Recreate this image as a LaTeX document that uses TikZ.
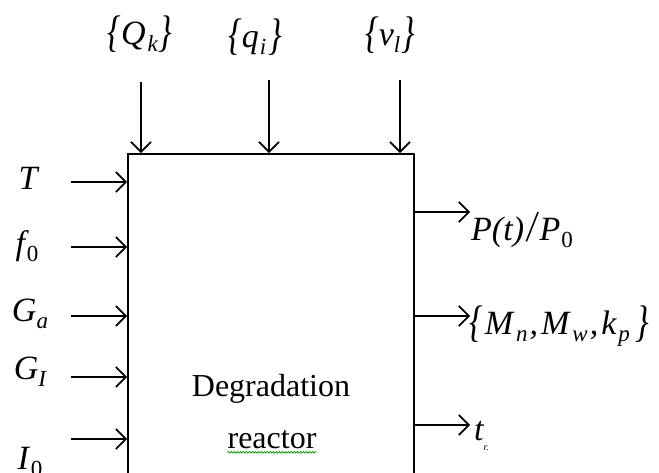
\documentclass[tikz,border=0pt]{standalone}
\usepackage{fontspec}
\setmainfont{Liberation Serif}
\usetikzlibrary{arrows.meta,decorations.pathmorphing}
\newcommand\sbs[1]{\raisebox{-0.45ex}{\fontsize{23}{23}\selectfont #1}}
\newcommand\bigbr[1]{\raisebox{-0.1ex}{\scalebox{1}[1.3]{#1}}}
\begin{document}
\begin{tikzpicture}[x=1pt,y=-1pt,
  lbl/.style={inner sep=0pt,font=\fontsize{34}{36}\selectfont\itshape},
  arr/.style={line width=1.7pt,-{Straight Barb[length=10pt,width=20pt,line width=1.7pt]}},
  boxst/.style={draw,line width=1.7pt,minimum width=286pt,minimum height=322pt,inner sep=0pt}]
\useasboundingbox (0,0) rectangle (659,473);
\clip (0,0) rectangle (659,473);
\fill[white] (0,0) rectangle (659,473);
\node[boxst] (box) at (271,315) {};
\node[inner sep=0pt,font=\fontsize{32}{34}\selectfont] (t1) at (271,389) {Degradation};
\node[inner sep=0pt,font=\fontsize{32}{34}\selectfont] (t2) at (272,440) {reactor};
\draw[green!60!black,line width=0.7pt,decorate,decoration={snake,amplitude=0.8pt,segment length=3pt}] ([yshift=-3pt]t2.south west) -- ([yshift=-3pt]t2.south east);
% top inputs
\node[lbl] (Qk) at (140,34) {\bigbr{\{}\textit{Q}\kern2pt\sbs{k}\kern1pt\bigbr{\}}};
\node[lbl] (qi) at (255,37) {\bigbr{\{}\textit{q}\kern1pt\sbs{i}\kern2pt\bigbr{\}}};
\node[lbl] (nu) at (390,35) {\bigbr{\{}\textit{ν}\sbs{l}\kern1pt\bigbr{\}}};
\coordinate (a1) at (141,82);
\coordinate (a2) at (269,80);
\coordinate (a3) at (400,80);
\draw[arr] (a1) -- (a1 |- box.north);
\draw[arr] (a2) -- (a2 |- box.north);
\draw[arr] (a3) -- (a3 |- box.north);
% left inputs
\node[lbl] (T) at (28,178) {T};
\node[lbl] (f0) at (27,246) {f\kern2pt\sbs{\upshape 0}};
\node[lbl] (Ga) at (30,314) {G\sbs{a}};
\node[lbl] (GI) at (30,372) {G\sbs{I}};
\node[lbl] (I0) at (30,462) {I\kern2pt\sbs{\upshape 0}};
\coordinate (l1) at (71,182);
\coordinate (l2) at (71,247);
\coordinate (l3) at (71,316);
\coordinate (l4) at (71,377);
\coordinate (l5) at (71,439);
\foreach \c in {l1,l2,l3,l4,l5} \draw[arr] (\c) -- (\c -| box.west);
% right outputs
\coordinate (r1) at (470,212);
\coordinate (r2) at (470,316);
\coordinate (r3) at (470,425);
\foreach \c in {r1,r2,r3} \draw[arr] (\c -| box.east) -- (\c);
\node[lbl,anchor=west] (P) at (471,230) {P(\textit{t})\kern3pt\raisebox{-0.1ex}{\scalebox{1}[1.3]{/}}\kern3pt P\kern1pt\sbs{\upshape 0}};
\node[lbl,anchor=west] (M) at (469,326) {\bigbr{\{}\kern2pt M\kern3pt\sbs{n}\kern2pt,\kern3pt M\kern3pt\sbs{w}\kern2pt,\kern3pt k\kern2pt\sbs{p}\kern6pt\bigbr{\}}};
\node[lbl,anchor=west] (tr) at (474,436) {t\raisebox{-0.6ex}{\fontsize{10}{10}\selectfont r.}};
\end{tikzpicture}
\end{document}
